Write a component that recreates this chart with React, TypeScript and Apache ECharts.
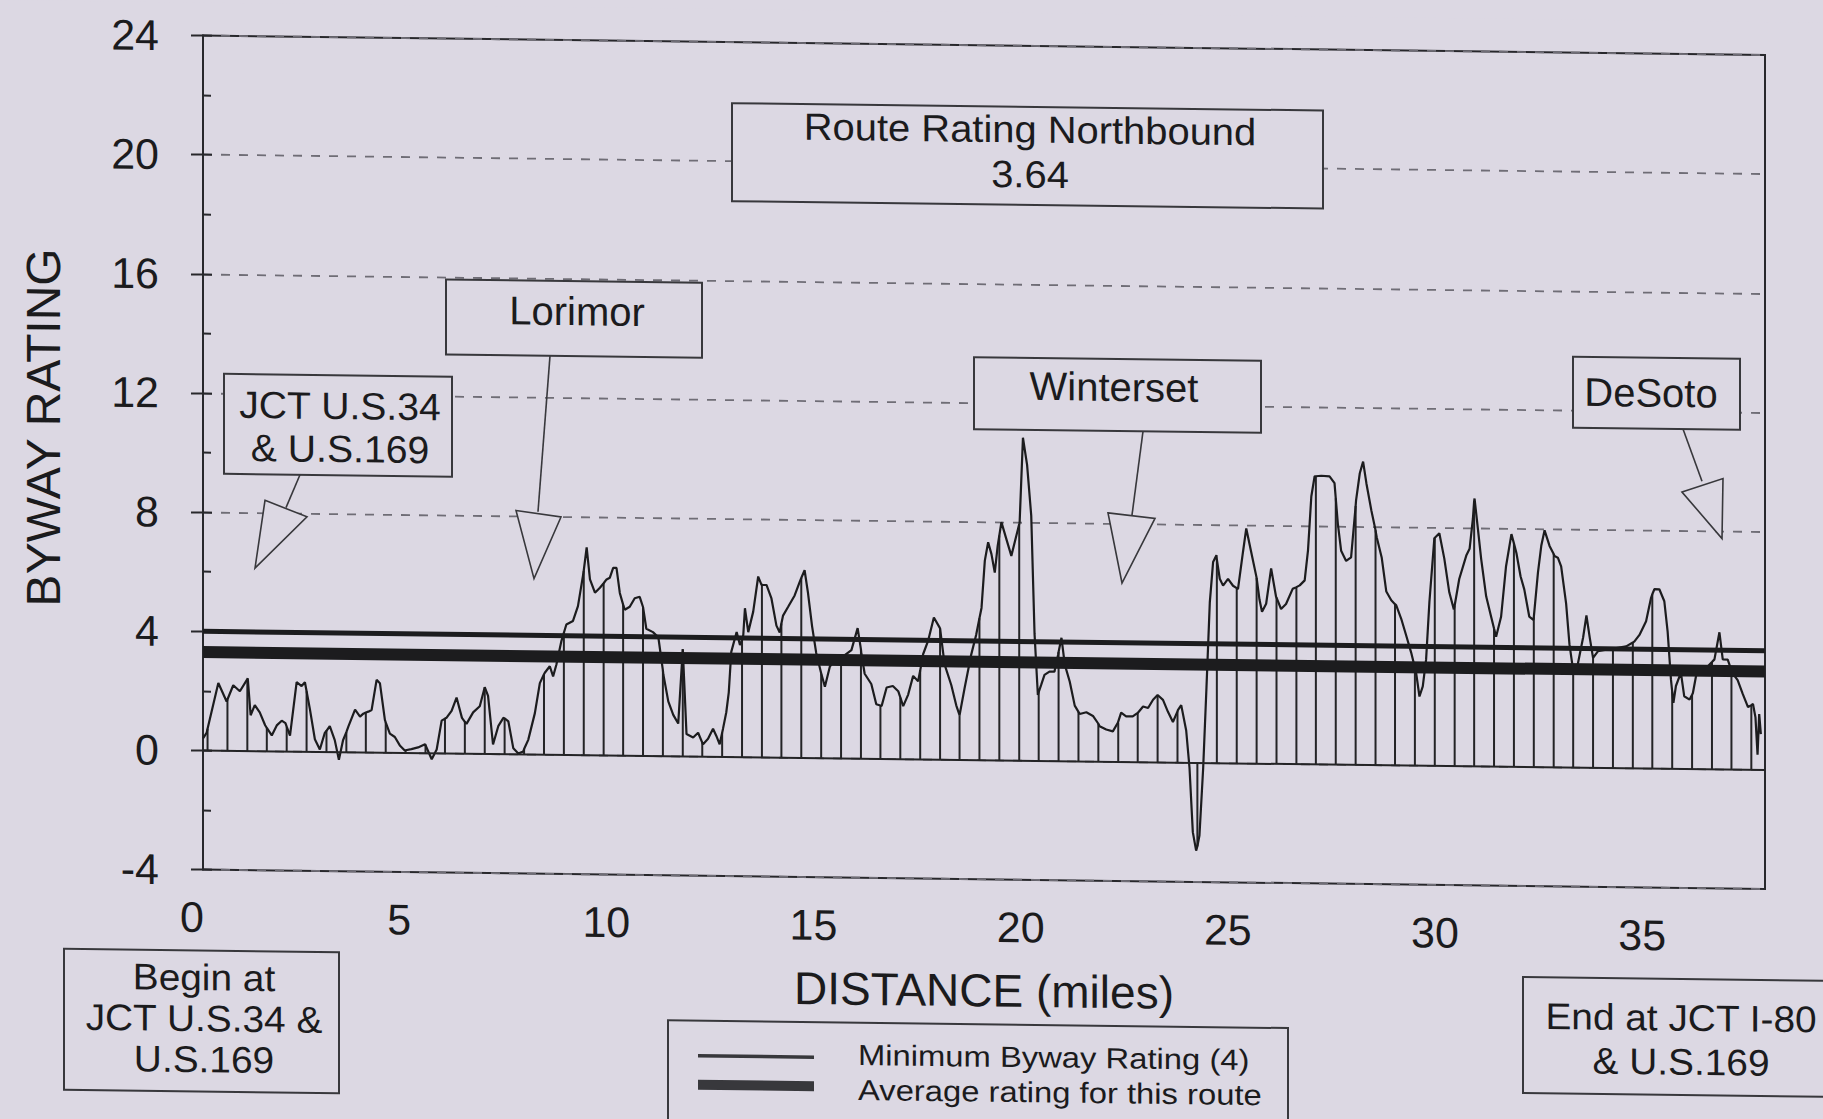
import React, { useEffect, useRef } from "react";
import * as echarts from "echarts";

// ---------- data ----------
// distance (miles) of the vertical drop lines and the rating where each meets the curve
const hatchMiles = [
  0.11, 0.59, 1.07, 1.54, 2.02, 2.5, 2.98, 3.46, 3.93, 4.41, 4.89, 5.37, 5.84, 6.32, 6.8, 7.28, 7.75, 8.23, 8.71, 9.19,
  9.67, 10.14, 10.62, 11.1, 11.58, 12.05, 12.53, 13.01, 13.49, 13.96, 14.44, 14.92, 15.4, 15.88, 16.35, 16.83, 17.31,
  17.79, 18.26, 18.74, 19.22, 19.7, 20.17, 20.65, 21.13, 21.61, 22.09, 22.56, 23.04, 23.52, 24.0, 24.47, 24.95, 25.43,
  25.91, 26.39, 26.86, 27.34, 27.82, 28.3, 28.77, 29.25, 29.73, 30.21, 30.68, 31.16, 31.64, 32.12, 32.6, 33.07, 33.55,
  34.03, 34.51, 34.98, 35.46, 35.94, 36.42, 36.89, 37.37,
];
const hatchRatings = [
  0.73, 1.72, 2.41, 0.78, 0.83, 2.03, 0.71, 0.67, 1.34, 1.02, 0.09, 0.29, 1.17, 1.07, 2.24, 1.2, 0.18, 2.7, 4.1, 6.2,
  5.78, 5.07, 5.0, 2.88, 3.6, 0.47, 0.81, 3.93, 5.79, 4.5, 6.04, 2.85, 3.44, 3.67, 1.79, 2.07, 2.98, 4.4, 1.5, 4.76,
  7.55, 7.94, 2.31, 3.66, 1.66, 1.27, 1.31, 1.65, 2.26, 1.72, -2.8, 6.84, 5.88, 6.23, 5.58, 5.94, 9.67, 8.94, 8.69,
  7.88, 5.41, 3.28, 7.65, 5.39, 8.9, 4.63, 7.5, 5.03, 7.16, 3.36, 3.69, 4.01, 4.22, 5.85, 2.59, 2.49, 3.6, 3.33, 2.17,
];

// further points of the rating curve between the drop lines
const traceMiles = [
  0.0, 0.09, 0.37, 0.57, 0.73, 0.89, 1.08, 1.15, 1.25, 1.37, 1.5, 1.66, 1.78, 1.9, 1.99, 2.1, 2.26, 2.38, 2.46, 2.58,
  2.7, 2.82, 2.94, 3.06, 3.18, 3.28, 3.38, 3.51, 3.67, 3.79, 3.87, 3.99, 4.07, 4.19, 4.27, 4.39, 4.51, 4.63, 4.75, 4.87,
  5.03, 5.19, 5.36, 5.52, 5.64, 5.76, 5.88, 6.0, 6.12, 6.25, 6.36, 6.52, 6.68, 6.8, 6.88, 7.0, 7.13, 7.25, 7.37, 7.49,
  7.61, 7.73, 7.85, 8.01, 8.13, 8.25, 8.37, 8.45, 8.53, 8.65, 8.77, 8.93, 9.05, 9.17, 9.26, 9.34, 9.46, 9.58, 9.74,
  9.82, 9.9, 9.98, 10.06, 10.18, 10.3, 10.42, 10.54, 10.62, 10.7, 10.86, 10.99, 11.11, 11.23, 11.35, 11.47, 11.67,
  11.83, 11.95, 12.07, 12.19, 12.31, 12.39, 12.47, 12.55, 12.63, 12.69, 12.75, 12.88, 12.96, 13.04, 13.08, 13.16,
  13.28, 13.4, 13.48, 13.6, 13.72, 13.84, 13.92, 14.0, 14.12, 14.28, 14.4, 14.52, 14.6, 14.7, 14.8, 14.92, 15.01,
  15.13, 15.29, 15.49, 15.65, 15.8, 15.89, 15.97, 16.13, 16.25, 16.38, 16.5, 16.65, 16.78, 16.9, 17.02, 17.14, 17.26,
  17.38, 17.5, 17.64, 17.78, 17.9, 18.06, 18.18, 18.26, 18.38, 18.54, 18.66, 18.79, 18.87, 18.95, 19.03, 19.11, 19.18,
  19.27, 19.39, 19.51, 19.63, 19.71, 19.79, 19.89, 19.99, 20.07, 20.15, 20.23, 20.31, 20.43, 20.55, 20.64, 20.72, 20.8,
  20.92, 21.04, 21.16, 21.32, 21.48, 21.64, 21.8, 21.96, 22.08, 22.16, 22.28, 22.44, 22.56, 22.69, 22.81, 22.93, 23.05,
  23.17, 23.29, 23.41, 23.53, 23.61, 23.73, 23.81, 23.89, 23.97, 24.05, 24.14, 24.22, 24.3, 24.38, 24.46, 24.54, 24.62,
  24.74, 24.86, 24.98, 25.1, 25.18, 25.3, 25.42, 25.5, 25.56, 25.66, 25.78, 25.9, 26.02, 26.14, 26.3, 26.47, 26.59,
  26.67, 26.75, 26.83, 26.99, 27.19, 27.31, 27.39, 27.47, 27.59, 27.71, 27.83, 27.92, 28.0, 28.08, 28.2, 28.33, 28.45,
  28.56, 28.68, 28.8, 28.92, 29.04, 29.16, 29.28, 29.36, 29.44, 29.52, 29.6, 29.72, 29.84, 29.96, 30.08, 30.19, 30.32,
  30.49, 30.57, 30.65, 30.69, 30.77, 30.85, 30.97, 31.09, 31.21, 31.33, 31.45, 31.58, 31.7, 31.8, 31.89, 32.01, 32.11,
  32.22, 32.3, 32.38, 32.5, 32.62, 32.7, 32.78, 32.9, 32.98, 33.06, 33.18, 33.31, 33.39, 33.47, 33.55, 33.67, 33.87,
  34.11, 34.35, 34.55, 34.67, 34.83, 34.95, 35.03, 35.15, 35.27, 35.35, 35.43, 35.49, 35.55, 35.67, 35.75, 35.88,
  35.96, 36.08, 36.28, 36.48, 36.6, 36.68, 36.8, 36.92, 37.04, 37.16, 37.29, 37.41, 37.47, 37.52, 37.56, 37.6,
];
const traceRatings = [
  0.4, 0.6, 2.27, 1.65, 2.2, 2.0, 2.44, 1.2, 1.54, 1.3, 0.87, 0.53, 0.87, 1.03, 0.95, 0.53, 2.33, 2.2, 2.33, 1.43,
  0.42, 0.08, 0.64, 0.87, 0.4, -0.26, 0.4, 0.87, 1.43, 1.2, 1.3, 1.37, 1.43, 2.44, 2.33, 1.1, 0.64, 0.53, 0.25, 0.08,
  0.13, 0.19, 0.3, -0.2, 0.13, 1.1, 1.2, 1.43, 1.88, 1.2, 1.0, 1.39, 1.6, 2.24, 1.95, 0.32, 0.95, 1.22, 1.1, 0.2,
  0.03, 0.1, 0.49, 1.39, 2.4, 2.75, 2.97, 2.63, 3.03, 3.82, 4.38, 4.5, 5.0, 6.02, 6.98, 5.9, 5.46, 5.63, 5.91,
  5.97, 6.3, 6.3, 5.46, 4.9, 5.0, 5.29, 5.34, 5.0, 4.27, 4.16, 3.99, 2.75, 1.84, 1.39, 1.1, 0.75,
  0.64, 0.8, 0.42, 0.6, 0.94, 0.7, 0.42, 0.94, 1.5, 2.17, 3.53, 4.2, 3.76, 4.1, 5.0, 4.2,
  4.89, 6.07, 5.79, 5.79, 5.34, 4.43, 4.2, 4.77, 5.06, 5.45, 5.9, 6.3, 5.56, 4.43, 3.53, 2.85, 2.4,
  3.08, 3.4, 3.47, 3.64, 4.38, 3.53, 2.85, 2.51, 1.83, 1.78, 2.4, 2.45, 2.28, 1.78, 2.17, 2.8, 2.62,
  3.53, 3.98, 4.77, 4.43, 3.19, 2.51, 1.83, 1.49, 2.4, 3.53, 4.2, 5.11, 6.7, 7.32, 6.92, 6.3, 7.2,
  8.0, 7.43, 6.87, 7.55, 8.0, 10.84, 9.93, 8.23, 4.26, 2.21, 2.55, 2.89, 3.0, 3.0, 3.58, 4.14, 3.24,
  2.67, 1.87, 1.59, 1.65, 1.53, 1.19, 1.08, 1.02, 1.31, 1.65, 1.53, 1.53, 1.65, 1.87, 1.82, 2.1, 2.27,
  2.1, 1.7, 1.36, 1.76, 1.93, 1.08, -0.17, -2.33, -2.95, -2.44, -0.17, 2.55, 5.39, 6.75, 6.98, 6.19, 5.96,
  6.19, 5.96, 5.85, 7.09, 7.89, 7.09, 6.3, 5.5, 5.1, 5.37, 6.56, 5.6, 5.2, 5.37, 5.88, 6.0, 6.17,
  7.18, 8.99, 9.67, 9.69, 9.67, 9.45, 8.09, 7.18, 6.84, 6.96, 8.88, 9.79, 10.18, 9.45, 8.54, 7.64, 6.96,
  5.83, 5.54, 5.37, 4.92, 4.36, 3.79, 3.11, 2.32, 2.66, 3.56, 5.49, 7.64, 7.81, 6.96, 5.83, 5.26, 6.28,
  7.07, 7.3, 8.31, 8.99, 7.98, 6.96, 5.71, 5.03, 4.36, 5.03, 6.73, 7.81, 7.18, 6.4, 5.96, 5.05, 4.94,
  6.53, 7.43, 7.95, 7.43, 7.09, 7.04, 6.75, 5.5, 4.14, 3.35, 3.46, 4.37, 5.11, 4.37, 3.69, 3.92, 3.97,
  4.03, 4.09, 4.26, 4.48, 4.94, 5.73, 6.02, 6.02, 5.62, 4.6, 3.0, 2.21, 2.78, 3.23, 2.44, 2.33,
  2.55, 3.46, 3.4, 3.69, 4.6, 3.69, 3.69, 3.23, 3.0, 2.55, 2.1, 2.21, 1.76, 0.51, 1.87, 1.2,
];

const minimumBywayRating = 4;
const averageRatingLevel = 3.3;
const routeRatingText = "3.64";
const distanceMax = 37.7;
const ratingTicks = { min: -4, max: 24, interval: 4 };

const BG = "#dcd8e3";
const INK = "#1b1b1d";
const BOX = "#38383c";
const FONT = '"Liberation Sans", Arial, Helvetica, sans-serif';

export default function App() {
  const ref = useRef<HTMLDivElement>(null);

  useEffect(() => {
    if (!ref.current) return;
    const chart = echarts.init(ref.current, null, { renderer: "svg" });

    const hatchData = hatchMiles.map((m, i) => [m, hatchRatings[i]]);
    const curveData = [
      ...hatchData,
      ...traceMiles.map((m, i) => [m, traceRatings[i]]),
    ].sort((a, b) => a[0] - b[0]);

    const rect = (x: number, y: number, w: number, h: number) => ({
      type: "rect",
      z: 100,
      shape: { x, y, width: w, height: h },
      style: { fill: BG, stroke: BOX, lineWidth: 2 },
    });
    const text = (
      t: string,
      x: number,
      y: number,
      size = 40,
      lineHeight = 40,
      align = "center",
      scaleX = 1
    ) => ({
      type: "text",
      z: 101,
      x,
      y,
      scaleX,
      style: {
        text: t,
        fill: INK,
        fontSize: size,
        lineHeight,
        fontFamily: FONT,
        align,
        verticalAlign: "middle",
      },
    });
    const seg = (x1: number, y1: number, x2: number, y2: number, w = 1.6) => ({
      type: "line",
      z: 100,
      shape: { x1, y1, x2, y2 },
      style: { stroke: BOX, lineWidth: w },
    });
    const tri = (pts: number[][]) => ({
      type: "polygon",
      z: 100,
      shape: { points: pts },
      style: { fill: BG, stroke: BOX, lineWidth: 1.6 },
    });

    const graphics = [
      // route rating box
      rect(732, 94, 591, 98),
      text("Route Rating Northbound\n" + routeRatingText, 1030, 139, 38, 45, "center", 1.05),
      // JCT U.S.34 & U.S.169
      seg(300, 471, 286, 504),
      tri([[265, 497], [307, 513], [255, 565]]),
      rect(224, 371, 228, 100),
      text("JCT U.S.34\n& U.S.169", 340, 423, 38, 43, "center", 1.03),
      // Lorimor
      seg(550, 349, 538, 505),
      tri([[516, 504], [561, 510], [534, 572]]),
      rect(446, 274, 256, 75),
      text("Lorimor", 577, 304),
      // Winterset
      seg(1143, 417, 1132, 501),
      tri([[1108, 499], [1155, 504], [1122, 569]]),
      rect(974, 345, 287, 72),
      text("Winterset", 1114, 373),
      // DeSoto
      seg(1683, 408, 1702, 460),
      tri([[1682, 471], [1723, 457], [1722, 517]]),
      rect(1573, 337, 167, 71),
      text("DeSoto", 1651, 372),
      // begin / end boxes
      rect(64, 948, 275, 141),
      text("Begin at\nJCT U.S.34 &\nU.S.169", 204, 1016, 37, 41, "center", 1.05),
      rect(1523, 958, 330, 116),
      text("End at JCT I-80\n& U.S.169", 1681, 1019, 37, 44, "center", 1.05),
      // legend box
      rect(668, 1012, 620, 140),
      seg(698, 1047, 814, 1047, 3.5),
      seg(698, 1076, 814, 1076, 10),
      text("Minimum Byway Rating (4)\nAverage rating for this route", 858, 1062, 29, 35, "left", 1.13),
    ];

    const option: any = {
      animation: false,
      backgroundColor: BG,
      textStyle: { fontFamily: FONT, color: INK },
      grid: {
        left: 203,
        top: 33,
        width: 1562,
        height: 834,
        show: true,
        borderColor: "#28282c",
        borderWidth: 2,
        backgroundColor: "transparent",
      },
      xAxis: {
        type: "value",
        min: 0,
        max: distanceMax,
        interval: 5,
        name: "DISTANCE (miles)",
        nameLocation: "middle",
        nameGap: 88,
        nameTextStyle: { fontSize: 46, color: INK, fontFamily: FONT },
        axisLine: { show: false, onZero: false },
        axisTick: { show: false },
        splitLine: { show: false },
        axisLabel: {
          fontSize: 43,
          color: INK,
          fontFamily: FONT,
          margin: 26,
          padding: [0, 22, 0, 0],
          formatter: (v: number) => (Math.abs(v % 5) < 1e-9 ? String(v) : ""),
        },
      },
      yAxis: [
        {
          type: "value",
          position: "left",
          ...ratingTicks,
          name: "BYWAY RATING",
          nameLocation: "middle",
          nameGap: 136,
          nameTextStyle: { fontSize: 48, color: INK, fontFamily: FONT, padding: [0, 0, 0, 46] },
          axisLine: { show: true, onZero: false, lineStyle: { color: "#28282c", width: 2 } },
          axisTick: { show: true, length: 12, lineStyle: { color: "#28282c", width: 2 } },
          axisLabel: { fontSize: 43, color: INK, fontFamily: FONT, margin: 44 },
          splitLine: { show: true, lineStyle: { color: "#6f6d76", width: 1.8, type: [9, 9] } },
        },
        {
          type: "value",
          position: "left",
          ...ratingTicks,
          axisLine: { show: false },
          axisLabel: { show: false },
          splitLine: { show: false },
          axisTick: { show: true, inside: true, length: 9, lineStyle: { color: "#28282c", width: 2 } },
          minorTick: { show: true, splitNumber: 2, length: 8, lineStyle: { color: "#28282c", width: 2 } },
        },
      ],
      series: [
        {
          type: "bar",
          name: "Drop lines",
          data: hatchData,
          barWidth: 2,
          silent: true,
          itemStyle: { color: "#242426" },
          z: 2,
          markLine: {
            silent: true,
            symbol: "none",
            label: { show: false },
            lineStyle: { color: "#242426", width: 2, type: "solid" },
            data: [{ yAxis: 0 }],
          },
        },
        {
          type: "line",
          name: "Byway rating",
          data: curveData,
          showSymbol: false,
          silent: true,
          lineStyle: { color: "#1c1c1e", width: 2.2 },
          z: 3,
        },
        {
          type: "line",
          name: "Minimum Byway Rating (4)",
          data: [[0, minimumBywayRating], [distanceMax, minimumBywayRating]],
          showSymbol: false,
          silent: true,
          lineStyle: { color: "#1c1c1e", width: 5, cap: "butt" },
          z: 4,
        },
        {
          type: "line",
          name: "Average rating for this route",
          data: [[0, averageRatingLevel], [distanceMax, averageRatingLevel]],
          showSymbol: false,
          silent: true,
          lineStyle: { color: "#1c1c1e", width: 12, cap: "butt" },
          z: 4,
        },
      ],
      graphic: { elements: graphics },
    };

    chart.setOption(option);
    return () => chart.dispose();
  }, []);

  return (
    <div
      style={{
        position: "fixed",
        left: 0,
        top: 0,
        width: 1823,
        height: 1119,
        background: BG,
        overflow: "hidden",
      }}
    >
      <div
        ref={ref}
        style={{ width: 1823, height: 1119, transform: "skewY(0.716deg)", transformOrigin: "0 0" }}
      />
    </div>
  );
}
